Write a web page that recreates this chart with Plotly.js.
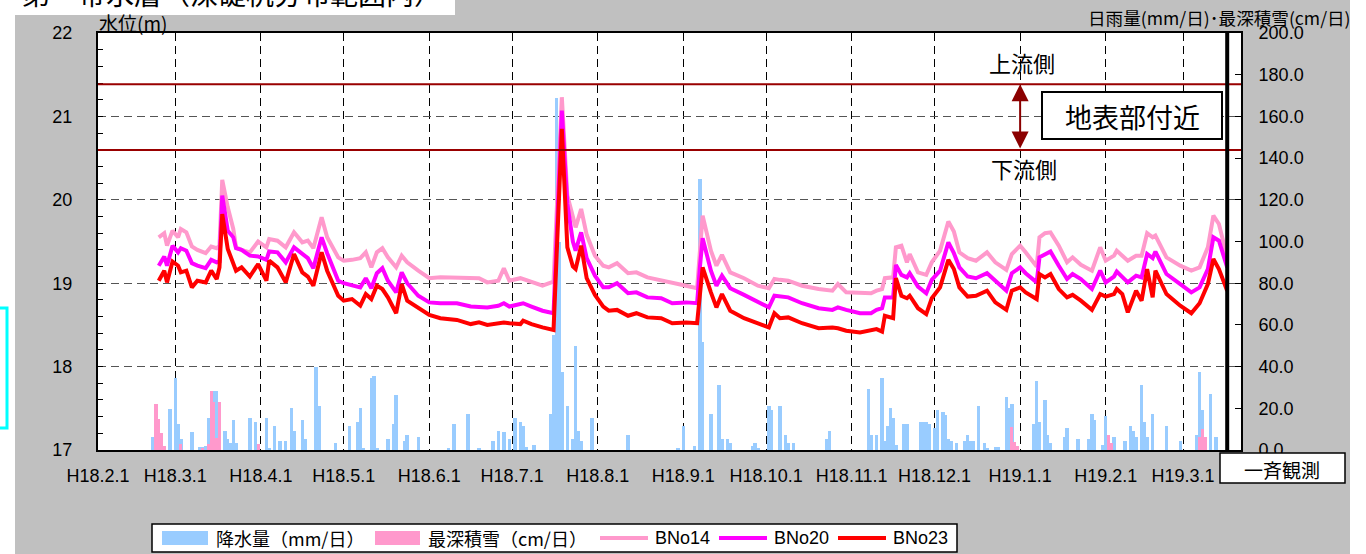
<!DOCTYPE html>
<html><head><meta charset="utf-8">
<script src="https://cdn.plot.ly/plotly-3.0.1.min.js"></script>
<style>html,body{margin:0;padding:0;background:#fff;}#chart{width:1366px;height:554px;}</style>
</head><body><div id="chart"></div>
<script>
// ---------- data ----------
const monthTicks = ['2006-02-01','2006-03-01','2006-04-01','2006-05-01','2006-06-01','2006-07-01','2006-08-01','2006-09-01','2006-10-01','2006-11-01','2006-12-01','2007-01-01','2007-02-01','2007-03-01'];
const monthLabels = ['H18.2.1','H18.3.1','H18.4.1','H18.5.1','H18.6.1','H18.7.1','H18.8.1','H18.9.1','H18.10.1','H18.11.1','H18.12.1','H19.1.1','H19.2.1','H19.3.1'];

const levelDates = ['2006-02-23','2006-02-25','2006-02-26','2006-02-28','2006-03-02','2006-03-03','2006-03-05','2006-03-07','2006-03-09','2006-03-12','2006-03-14','2006-03-16','2006-03-17','2006-03-18','2006-03-20','2006-03-22','2006-03-23','2006-03-25','2006-03-28','2006-03-31','2006-04-03','2006-04-04','2006-04-07','2006-04-10','2006-04-13','2006-04-16','2006-04-18','2006-04-20','2006-04-23','2006-04-25','2006-04-29','2006-05-01','2006-05-04','2006-05-07','2006-05-09','2006-05-11','2006-05-13','2006-05-15','2006-05-17','2006-05-20','2006-05-22','2006-05-24','2006-05-28','2006-06-01','2006-06-05','2006-06-11','2006-06-16','2006-06-19','2006-06-22','2006-06-26','2006-06-28','2006-06-30','2006-07-04','2006-07-05','2006-07-08','2006-07-12','2006-07-16','2006-07-19','2006-07-21','2006-07-23','2006-07-24','2006-07-26','2006-07-28','2006-07-31','2006-08-03','2006-08-05','2006-08-08','2006-08-12','2006-08-15','2006-08-19','2006-08-24','2006-08-28','2006-09-02','2006-09-06','2006-09-07','2006-09-08','2006-09-11','2006-09-13','2006-09-15','2006-09-18','2006-09-23','2006-09-28','2006-10-02','2006-10-04','2006-10-06','2006-10-09','2006-10-14','2006-10-20','2006-10-25','2006-10-27','2006-10-30','2006-11-04','2006-11-08','2006-11-10','2006-11-12','2006-11-13','2006-11-16','2006-11-17','2006-11-19','2006-11-21','2006-11-22','2006-11-25','2006-11-28','2006-11-30','2006-12-03','2006-12-06','2006-12-08','2006-12-10','2006-12-13','2006-12-16','2006-12-20','2006-12-23','2006-12-27','2006-12-29','2007-01-01','2007-01-03','2007-01-07','2007-01-08','2007-01-10','2007-01-12','2007-01-15','2007-01-18','2007-01-20','2007-01-23','2007-01-27','2007-01-30','2007-02-01','2007-02-04','2007-02-05','2007-02-07','2007-02-09','2007-02-12','2007-02-14','2007-02-16','2007-02-18','2007-02-19','2007-02-23','2007-02-28','2007-03-04','2007-03-07','2007-03-10','2007-03-12','2007-03-14','2007-03-17'];
const bno14 = [19.55,19.60,19.45,19.63,19.55,19.65,19.61,19.44,19.40,19.36,19.44,19.42,19.45,20.24,19.91,19.65,19.43,19.40,19.37,19.50,19.43,19.53,19.51,19.43,19.61,19.49,19.51,19.42,19.79,19.55,19.31,19.27,19.28,19.30,19.37,19.19,19.37,19.42,19.31,19.19,19.33,19.25,19.15,19.06,19.07,19.07,19.06,19.06,19.01,19.03,19.18,19.03,19.06,19.05,19.01,18.97,19.02,21.23,20.05,19.80,19.67,19.89,19.58,19.33,19.21,19.19,19.24,19.12,19.13,19.07,19.03,19.00,18.97,18.94,19.36,19.81,19.39,19.21,19.34,19.13,19.06,18.97,18.94,19.05,19.04,19.03,18.97,18.93,18.91,18.99,18.89,18.88,18.88,18.91,18.93,19.06,19.07,19.43,19.45,19.25,19.35,19.13,19.10,19.25,19.39,19.74,19.62,19.37,19.30,19.27,19.37,19.25,19.16,19.35,19.45,19.37,19.20,19.55,19.60,19.61,19.45,19.25,19.31,19.22,19.15,19.43,19.27,19.33,19.39,19.33,19.27,19.33,19.33,19.60,19.55,19.57,19.31,19.21,19.15,19.19,19.43,19.81,19.71,19.31];
const bno20 = [19.21,19.32,19.21,19.45,19.37,19.42,19.39,19.24,19.21,19.18,19.28,19.25,19.26,20.05,19.63,19.55,19.42,19.40,19.33,19.32,19.28,19.38,19.37,19.25,19.43,19.35,19.30,19.18,19.55,19.36,19.03,19.00,18.98,18.95,19.06,18.94,19.12,19.18,19.03,18.89,19.13,19.00,18.85,18.77,18.76,18.76,18.72,18.71,18.71,18.73,18.76,18.72,18.75,18.76,18.72,18.67,18.64,21.07,19.95,19.50,19.39,19.61,19.30,19.09,18.95,18.95,19.00,18.88,18.89,18.83,18.82,18.76,18.77,18.76,19.19,19.54,19.15,18.97,19.09,18.94,18.86,18.77,18.71,18.85,18.84,18.83,18.76,18.70,18.68,18.71,18.68,18.64,18.64,18.68,18.70,18.83,18.83,19.22,19.10,19.07,19.12,18.96,18.88,19.04,19.15,19.49,19.36,19.19,19.08,19.06,19.12,19.03,18.91,19.12,19.19,19.12,19.01,19.31,19.34,19.38,19.21,19.05,19.11,19.05,18.93,19.15,19.01,19.08,19.14,19.08,19.01,19.09,19.07,19.35,19.30,19.38,19.11,18.99,18.89,18.95,19.17,19.55,19.51,19.19];
const bno23 = [19.03,19.15,19.01,19.26,19.21,19.13,19.15,18.95,19.03,19.01,19.15,19.05,19.19,19.83,19.41,19.25,19.15,19.19,19.08,19.23,19.03,19.27,19.19,19.01,19.35,19.13,19.08,18.97,19.37,19.15,18.85,18.79,18.81,18.73,18.87,18.81,18.97,18.93,18.83,18.64,18.99,18.79,18.70,18.62,18.58,18.56,18.51,18.53,18.50,18.52,18.53,18.52,18.51,18.55,18.51,18.47,18.44,20.85,19.43,19.20,19.17,19.45,19.06,18.86,18.72,18.67,18.68,18.61,18.64,18.59,18.58,18.52,18.53,18.52,18.87,19.19,18.89,18.71,18.87,18.67,18.58,18.52,18.47,18.64,18.58,18.59,18.52,18.46,18.47,18.46,18.43,18.41,18.43,18.45,18.42,18.61,18.58,19.06,18.85,18.82,18.85,18.70,18.63,18.82,18.95,19.28,19.17,18.95,18.84,18.85,18.91,18.77,18.68,18.91,18.95,18.89,18.81,19.11,19.07,19.11,18.93,18.83,18.86,18.79,18.68,18.87,18.84,18.87,18.93,18.87,18.65,18.91,18.79,19.17,18.83,19.15,18.87,18.73,18.64,18.76,18.99,19.29,19.17,18.91];

const rainDates = ['2006-02-21','2006-02-27','2006-03-01','2006-03-02','2006-03-03','2006-03-07','2006-03-10','2006-03-11','2006-03-12','2006-03-13','2006-03-15','2006-03-16','2006-03-19','2006-03-20','2006-03-21','2006-03-22','2006-03-23','2006-03-28','2006-03-30','2006-04-03','2006-04-04','2006-04-06','2006-04-08','2006-04-10','2006-04-12','2006-04-13','2006-04-16','2006-04-17','2006-04-21','2006-04-22','2006-04-28','2006-05-03','2006-05-06','2006-05-07','2006-05-08','2006-05-11','2006-05-12','2006-05-13','2006-05-17','2006-05-19','2006-05-20','2006-05-23','2006-05-24','2006-05-28','2006-06-08','2006-06-10','2006-06-15','2006-06-19','2006-06-24','2006-06-26','2006-06-28','2006-06-30','2006-07-02','2006-07-04','2006-07-05','2006-07-06','2006-07-09','2006-07-15','2006-07-16','2006-07-17','2006-07-18','2006-07-19','2006-07-21','2006-07-23','2006-07-24','2006-07-25','2006-07-26','2006-07-30','2006-08-12','2006-08-30','2006-09-01','2006-09-05','2006-09-07','2006-09-08','2006-09-11','2006-09-14','2006-09-15','2006-09-17','2006-09-18','2006-09-26','2006-09-27','2006-09-28','2006-10-02','2006-10-03','2006-10-06','2006-10-08','2006-10-09','2006-10-11','2006-10-23','2006-10-24','2006-11-07','2006-11-08','2006-11-10','2006-11-12','2006-11-13','2006-11-14','2006-11-15','2006-11-16','2006-11-17','2006-11-20','2006-11-21','2006-11-26','2006-11-27','2006-11-28','2006-11-29','2006-12-01','2006-12-02','2006-12-04','2006-12-05','2006-12-06','2006-12-07','2006-12-09','2006-12-12','2006-12-13','2006-12-14','2006-12-15','2006-12-17','2006-12-19','2006-12-20','2006-12-23','2006-12-24','2006-12-27','2006-12-28','2006-12-29','2007-01-06','2007-01-07','2007-01-08','2007-01-10','2007-01-11','2007-01-12','2007-01-17','2007-01-18','2007-01-22','2007-01-26','2007-01-27','2007-01-28','2007-01-31','2007-02-01','2007-02-02','2007-02-04','2007-02-08','2007-02-10','2007-02-11','2007-02-12','2007-02-14','2007-02-15','2007-02-16','2007-02-18','2007-02-23','2007-02-28','2007-03-06','2007-03-07','2007-03-08','2007-03-11','2007-03-13'];
const rainMm = [6.1,19.5,34.3,12.3,5.1,8.5,1.3,1.3,2.0,15.2,28.2,28.2,9.2,5.3,3.2,14.2,3.2,15.2,13.4,15.2,1.0,11.5,4.3,4.3,20.3,9.2,14.2,5.1,39.6,21.0,3.2,11.3,13.4,20.3,1.0,34.3,35.4,1.0,5.3,12.3,26.3,4.3,7.2,6.2,1.0,12.3,17.5,1.0,4.3,9.2,8.5,5.1,15.2,13.3,11.5,1.5,2.4,17.5,55.0,169.0,100.0,37.3,21.2,5.3,50.0,9.2,4.3,15.2,7.2,1.0,11.3,2.0,130.0,52.0,17.5,31.1,5.3,5.3,3.2,2.0,3.2,1.0,21.2,19.1,21.2,7.2,3.2,3.2,5.3,9.2,29.2,7.2,7.2,34.3,4.3,11.3,20.3,15.2,2.4,12.3,12.3,13.3,13.3,13.3,12.3,10.7,19.1,18.3,17.0,5.3,4.3,3.2,4.3,7.2,4.3,4.3,21.2,3.2,1.0,1.5,1.5,25.2,20.3,22.3,12.3,33.2,13.3,24.2,7.2,3.2,6.3,10.7,5.3,5.3,17.5,14.2,2.4,16.3,2.4,6.2,4.3,11.3,9.2,6.2,31.1,13.3,6.2,17.5,11.3,4.3,7.2,37.2,19.1,27.1,6.2];

const snowDates = ['2006-02-22','2006-02-23','2006-02-24','2006-02-25','2006-03-03','2006-03-11','2006-03-13','2006-03-14','2006-03-15','2006-03-16','2006-03-17','2006-03-31','2006-12-29','2006-12-30','2006-12-31','2007-02-02','2007-02-03','2007-03-07','2007-03-08','2007-03-09'];
const snowCm = [22.0,14.8,8.3,1.9,2.9,1.0,2.9,28.2,23.0,5.6,23.0,2.9,11.2,4.0,1.9,7.2,3.2,6.1,9.9,6.1];

const upstreamLevel = 21.386;   // 上流側 地表部
const downstreamLevel = 20.597; // 下流側 地表部
const surveyDate = '2007-03-17'; // 一斉観測

// ---------- layout helpers (pixel -> paper) ----------
const L = 98, R = 1241, T = 33, B = 450;
const px = x => (x - L) / (R - L);
const py = y => (B - y) / (B - T);
const NUM = 'Liberation Sans, Arial, sans-serif';
const JP = 'Noto Sans CJK JP, sans-serif';
const DAY = 86400000;

const traces = [
  {type:'bar', x:rainDates, y:rainMm, yaxis:'y', width:DAY*1.25,
   marker:{color:'#99ccff', line:{width:0}}, name:'降水量（mm/日）', showlegend:false},
  {type:'bar', x:snowDates, y:snowCm, yaxis:'y', width:DAY*1.1,
   marker:{color:'#ff99cc', line:{width:0}}, name:'最深積雪（cm/日）', showlegend:false},
  {type:'scatter', mode:'lines', x:levelDates, y:bno14, yaxis:'y2', name:'BNo14',
   line:{color:'#ff99cc', width:4}, showlegend:false},
  {type:'scatter', mode:'lines', x:levelDates, y:bno20, yaxis:'y2', name:'BNo20',
   line:{color:'#ff00ff', width:4}, showlegend:false},
  {type:'scatter', mode:'lines', x:levelDates, y:bno23, yaxis:'y2', name:'BNo23',
   line:{color:'#ff0000', width:4}, showlegend:false}
];

const shapes = [
  // white page strips around the gray panel
  {type:'rect', xref:'paper', yref:'paper', x0:px(-20), x1:px(15), y0:py(600), y1:py(-20), fillcolor:'#ffffff', line:{width:0}, layer:'below'},
  {type:'rect', xref:'paper', yref:'paper', x0:px(1350), x1:px(1400), y0:py(600), y1:py(-20), fillcolor:'#ffffff', line:{width:0}, layer:'below'},
  {type:'rect', xref:'paper', yref:'paper', x0:px(-20), x1:px(455), y0:py(15), y1:py(-20), fillcolor:'#ffffff', line:{width:0}, layer:'below'},
  // cyan box at left edge
  {type:'rect', xref:'paper', yref:'paper', x0:px(-60), x1:px(7), y0:py(428), y1:py(308), fillcolor:'#ffffff', line:{color:'#00ffff', width:3}, layer:'below'},
  // ground surface level lines
  {type:'line', xref:'paper', yref:'y2', x0:0, x1:1, y0:upstreamLevel, y1:upstreamLevel, line:{color:'#990000', width:2}, layer:'above'},
  {type:'line', xref:'paper', yref:'y2', x0:0, x1:1, y0:downstreamLevel, y1:downstreamLevel, line:{color:'#990000', width:2}, layer:'above'},
  // simultaneous observation line
  {type:'line', xref:'x', yref:'paper', x0:surveyDate, x1:surveyDate, y0:0, y1:1, line:{color:'#000000', width:4}, layer:'above'},
  // boxes
  {type:'rect', xref:'paper', yref:'paper', x0:px(1042), x1:px(1222), y0:py(139), y1:py(92), fillcolor:'#ffffff', line:{color:'#000', width:2}, layer:'above'},
  {type:'rect', xref:'paper', yref:'paper', x0:px(1220), x1:px(1345), y0:py(483), y1:py(453), fillcolor:'#ffffff', line:{color:'#000', width:1.5}, layer:'above'},
  // legend
  {type:'rect', xref:'paper', yref:'paper', x0:px(152), x1:px(957), y0:py(552), y1:py(524), fillcolor:'#ffffff', line:{color:'#000', width:1.5}, layer:'above'},
  {type:'rect', xref:'paper', yref:'paper', x0:px(162), x1:px(208), y0:py(545), y1:py(531), fillcolor:'#99ccff', line:{width:0}, layer:'above'},
  {type:'rect', xref:'paper', yref:'paper', x0:px(375), x1:px(420), y0:py(545), y1:py(531), fillcolor:'#ff99cc', line:{width:0}, layer:'above'},
  {type:'line', xref:'paper', yref:'paper', x0:px(600), x1:px(648), y0:py(538), y1:py(538), line:{color:'#ff99cc', width:4}, layer:'above'},
  {type:'line', xref:'paper', yref:'paper', x0:px(719), x1:px(767), y0:py(538), y1:py(538), line:{color:'#ff00ff', width:4}, layer:'above'},
  {type:'line', xref:'paper', yref:'paper', x0:px(838), x1:px(886), y0:py(538), y1:py(538), line:{color:'#ff0000', width:4}, layer:'above'}
];

const ann = (x, y, text, size, opts) => Object.assign({xref:'paper', yref:'paper', x:px(x), y:py(y), text:text, showarrow:false,
  font:{family:JP, size:size, color:'#000'}, xanchor:'center', yanchor:'middle'}, opts || {});

const annotations = [
  ann(20, 15, '第一帯水層（深礎杭分布範囲内）', 28, {xanchor:'left', yanchor:'bottom'}),
  ann(97, 23, '水位(m)', 19, {xanchor:'left'}),
  ann(1353, 17, '日雨量(mm/日)･最深積雪(cm/日)', 17.6, {xanchor:'right'}),
  ann(1022, 62, '上流側', 22),
  ann(1024, 168, '下流側', 22),
  ann(1132, 116, '地表部付近', 27),
  ann(1282, 469, '一斉観測', 19),
  ann(214, 538, '降水量（mm/日）', 18, {xanchor:'left'}),
  ann(426, 538, '最深積雪（cm/日）', 18, {xanchor:'left'}),
  ann(653, 538, 'BNo14', 18, {xanchor:'left', font:{family:NUM, size:18, color:'#000'}}),
  ann(772, 538, 'BNo20', 18, {xanchor:'left', font:{family:NUM, size:18, color:'#000'}}),
  ann(891, 538, 'BNo23', 18, {xanchor:'left', font:{family:NUM, size:18, color:'#000'}}),
  {xref:'x', yref:'y2', x:'2007-01-01', y:upstreamLevel, axref:'x', ayref:'y2', ax:'2007-01-01', ay:downstreamLevel,
   text:'', showarrow:true, arrowside:'end+start', arrowhead:2, arrowsize:1.7, arrowwidth:2, arrowcolor:'#8b0000', standoff:0, startstandoff:0}
];

const layout = {
  width:1366, height:554,
  margin:{l:L, r:1366-R, t:T, b:554-B, pad:0},
  paper_bgcolor:'#c0c0c0', plot_bgcolor:'#ffffff',
  barmode:'overlay', bargap:0, showlegend:false,
  font:{family:NUM, size:18, color:'#000'},
  xaxis:{type:'date', range:['2006-02-01','2007-03-22'], tickmode:'array', tickvals:monthTicks, ticktext:monthLabels,
    showgrid:true, gridcolor:'#000', gridwidth:1, griddash:'8px,5px', ticks:'', showline:true, mirror:true,
    linecolor:'#000', linewidth:2, zeroline:false, tickfont:{family:NUM, size:18}, ticklabelstandoff:8, fixedrange:true},
  yaxis:{range:[0,200], side:'right', dtick:20, tick0:0, tickformat:'.1f', ticks:'inside', ticklen:6, tickcolor:'#000',
    showgrid:false, showline:true, linecolor:'#000', linewidth:2, zeroline:false, tickfont:{family:NUM, size:18}, ticklabelstandoff:12},
  yaxis2:{range:[17,22], overlaying:'y', side:'left', dtick:1, tick0:17, tickformat:'d', ticks:'inside', ticklen:5, tickcolor:'#000',
    showgrid:true, gridcolor:'#555', gridwidth:1, griddash:'8px,5px', showline:true, linecolor:'#000', linewidth:2, zeroline:false,
    minor:{dtick:0.2, ticks:'inside', ticklen:5, tickcolor:'#000', showgrid:false},
    tickfont:{family:NUM, size:18}, ticklabelstandoff:20},
  shapes:shapes, annotations:annotations
};

Plotly.newPlot('chart', traces, layout, {staticPlot:true, displayModeBar:false});
</script></body></html>
